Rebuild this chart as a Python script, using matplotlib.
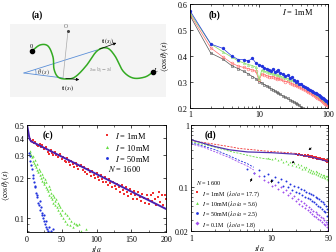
import numpy as np
import matplotlib.pyplot as plt
from matplotlib.lines import Line2D
from matplotlib.patches import Rectangle

plt.rcParams.update({
    "font.family": "Liberation Serif",
    "mathtext.fontset": "stix",
    "font.size": 6,
    "xtick.labelsize": 5.8, "ytick.labelsize": 5.8,
    "axes.linewidth": 0.6,
    "xtick.direction": "in", "ytick.direction": "in",
    "xtick.top": True, "ytick.right": True,
    "xtick.major.size": 2.5, "ytick.major.size": 2.5,
    "xtick.minor.size": 1.4, "ytick.minor.size": 1.4,
    "xtick.major.width": 0.5, "ytick.major.width": 0.5,
    "xtick.minor.width": 0.4, "ytick.minor.width": 0.4,
    "xtick.major.pad": 2, "ytick.major.pad": 1.5,
})

# ---- panel (b): log-x, linear y ----
b_x = [1, 2, 3, 4, 5, 6, 7, 8, 9, 10, 11, 12, 13, 14, 15, 16, 17, 18, 19, 20,
       22, 24, 26, 28, 30, 32, 34, 36, 38, 40,
       43, 46, 49, 52, 55, 58, 61, 64, 67, 70, 73, 76, 79, 82, 85, 88, 91, 94, 97, 100]
b_blue = [0.573, 0.445, 0.428, 0.400, 0.385, 0.385, 0.380, 0.390, 0.372, 0.366,
          0.360, 0.352, 0.350, 0.345, 0.343, 0.350, 0.336, 0.340, 0.345, 0.335,
          0.330, 0.322, 0.326, 0.315, 0.318, 0.305, 0.300, 0.302, 0.292, 0.290,
          0.285, 0.280, 0.276, 0.272, 0.268, 0.265, 0.262, 0.258, 0.255, 0.252,
          0.248, 0.245, 0.242, 0.238, 0.236, 0.232, 0.230, 0.226, 0.224, 0.220]
b_green = [0.565, 0.445, 0.415, 0.395, 0.380, 0.372, 0.366, 0.362, 0.356, 0.310,
           0.345, 0.340, 0.338, 0.335, 0.332, 0.330, 0.328, 0.326, 0.325, 0.322,
           0.318, 0.314, 0.312, 0.308, 0.305, 0.302, 0.298, 0.295, 0.292, 0.290,
           0.285, 0.280, 0.276, 0.272, 0.268, 0.264, 0.260, 0.257, 0.254, 0.250,
           0.246, 0.243, 0.240, 0.236, 0.233, 0.230, 0.227, 0.224, 0.221, 0.218]
b_red = [0.560, 0.430, 0.395, 0.372, 0.360, 0.355, 0.350, 0.345, 0.340, 0.305,
         0.330, 0.326, 0.323, 0.320, 0.318, 0.320, 0.315, 0.312, 0.314, 0.310,
         0.305, 0.300, 0.302, 0.295, 0.292, 0.288, 0.286, 0.282, 0.280, 0.276,
         0.272, 0.268, 0.264, 0.260, 0.256, 0.252, 0.248, 0.245, 0.242, 0.238,
         0.235, 0.232, 0.228, 0.225, 0.222, 0.220, 0.216, 0.213, 0.210, 0.207]
b_black = [0.554, 0.410, 0.387, 0.362, 0.350, 0.340, 0.330, 0.320, 0.312, 0.300,
           0.296, 0.288, 0.284, 0.278, 0.272, 0.270, 0.264, 0.260, 0.256, 0.252,
           0.246, 0.240, 0.236, 0.230, 0.226, 0.222, 0.218, 0.214, 0.210, 0.204,
           0.198, 0.193, 0.188]

# ---- panel (c): linear x, log y ----
c_red_x = list(range(4, 201, 2))
c_red = [0.395, 0.378, 0.385, 0.368, 0.372, 0.356, 0.348, 0.362, 0.340, 0.352,
         0.328, 0.335, 0.342, 0.315, 0.305, 0.322, 0.308, 0.296, 0.312, 0.300,
         0.285, 0.295, 0.302, 0.276, 0.285, 0.270, 0.264, 0.282, 0.262, 0.250,
         0.270, 0.255, 0.242, 0.258, 0.248, 0.232, 0.245, 0.252, 0.228, 0.240,
         0.222, 0.215, 0.235, 0.220, 0.208, 0.226, 0.212, 0.200, 0.218, 0.205,
         0.192, 0.210, 0.198, 0.185, 0.202, 0.188, 0.178, 0.195, 0.182, 0.170,
         0.188, 0.175, 0.166, 0.180, 0.170, 0.158, 0.176, 0.162, 0.152, 0.170,
         0.158, 0.146, 0.165, 0.152, 0.140, 0.160, 0.148, 0.138, 0.156, 0.145,
         0.134, 0.152, 0.142, 0.130, 0.150, 0.140, 0.128, 0.148, 0.135, 0.155,
         0.138, 0.126, 0.145, 0.158, 0.132, 0.148, 0.125, 0.150, 0.138]
c_green_x = [4, 5, 6, 7, 8, 9, 10, 11, 12, 13, 14, 15, 16, 17, 18, 19, 20, 21, 22, 23,
             24, 25, 26, 27, 28, 29, 30, 31, 32, 33, 34, 35, 36, 37, 38, 39, 40, 41, 42, 43,
             44, 45, 46, 47, 48, 49, 50, 52, 54, 55, 57, 58, 60, 62, 64, 66, 68, 70, 72, 75,
             78, 85]
c_green = [0.32, 0.31, 0.30, 0.285, 0.29, 0.27, 0.26, 0.275, 0.25, 0.24, 0.255, 0.23, 0.22,
           0.235, 0.21, 0.225, 0.20, 0.215, 0.19, 0.205, 0.185, 0.18, 0.195, 0.17, 0.185,
           0.165, 0.16, 0.175, 0.15, 0.165, 0.145, 0.155, 0.14, 0.15, 0.13, 0.145, 0.135,
           0.125, 0.14, 0.12, 0.13, 0.115, 0.125, 0.11, 0.12, 0.105, 0.115, 0.10, 0.11,
           0.095, 0.105, 0.09, 0.10, 0.088, 0.095, 0.085, 0.092, 0.09, 0.088, 0.09, 0.08, 0.082]
c_blue_x = [3, 4, 5, 6, 7, 8, 9, 10, 11, 12, 13, 14, 15, 16, 17, 18, 19, 20, 21, 22,
            23, 24, 25, 26, 27, 28, 29, 30, 32, 35, 38]
c_blue = [0.31, 0.29, 0.27, 0.25, 0.235, 0.21, 0.20, 0.185, 0.17, 0.175, 0.155, 0.145,
          0.15, 0.13, 0.125, 0.135, 0.115, 0.12, 0.105, 0.11, 0.10, 0.095, 0.105, 0.09,
          0.085, 0.095, 0.082, 0.08, 0.085, 0.08, 0.082]
c_fit_x = [0, 1, 2, 3, 4, 6, 10, 200]
c_fit = [0.5, 0.47, 0.44, 0.41, 0.39, 0.376, 0.368, 0.117]

# ---- panel (d): log-log ----
d_fit_x = [1, 2, 3, 5, 10, 20, 30, 50]
d_fit = [0.58, 0.45, 0.40, 0.37, 0.36, 0.34, 0.31, 0.26]
d_red_lx = [1, 1.5, 2, 3, 4, 6, 8, 12, 16, 20]
d_red_l = [0.56, 0.52, 0.49, 0.45, 0.42, 0.40, 0.385, 0.37, 0.36, 0.35]
d_green_lx = [1, 1.5, 2, 3, 4, 6, 8, 10]
d_green_l = [0.54, 0.48, 0.44, 0.38, 0.35, 0.31, 0.29, 0.28]
d_blue_lx = [1, 1.5, 2, 3, 4, 5, 6]
d_blue_l = [0.52, 0.45, 0.40, 0.32, 0.27, 0.24, 0.21]
d_purple_lx = [1, 1.5, 2, 3, 4, 5, 6]
d_purple_l = [0.50, 0.43, 0.37, 0.30, 0.25, 0.22, 0.19]
d_red_x = list(range(20, 51))
d_red = [0.345, 0.332, 0.340, 0.328, 0.335, 0.322, 0.330, 0.318, 0.326, 0.312, 0.320,
         0.305, 0.315, 0.300, 0.308, 0.296, 0.302, 0.290, 0.298, 0.284, 0.292, 0.280,
         0.286, 0.275, 0.282, 0.270, 0.276, 0.264, 0.272, 0.260, 0.266]
d_green_x = list(range(9, 51))
d_green = [0.30, 0.285, 0.295, 0.27, 0.28, 0.255, 0.265, 0.24, 0.255, 0.23, 0.245, 0.22,
           0.235, 0.21, 0.225, 0.20, 0.215, 0.195, 0.21, 0.185, 0.20, 0.178, 0.19, 0.172,
           0.185, 0.168, 0.18, 0.162, 0.175, 0.158, 0.17, 0.152, 0.165, 0.148, 0.16, 0.145,
           0.158, 0.14, 0.155, 0.135, 0.15, 0.13]
d_blue_x = list(range(5, 51))
d_blue = [0.20, 0.17, 0.19, 0.15, 0.165, 0.13, 0.145, 0.12, 0.135, 0.105, 0.125, 0.10,
          0.115, 0.09, 0.105, 0.085, 0.10, 0.08, 0.095, 0.075, 0.09, 0.07, 0.085, 0.068,
          0.08, 0.065, 0.078, 0.06, 0.075, 0.058, 0.07, 0.055, 0.068, 0.05, 0.065, 0.048,
          0.06, 0.045, 0.058, 0.042, 0.055, 0.04, 0.05, 0.035, 0.045, 0.028]
d_purple_x = list(range(6, 51))
d_purple = [0.17, 0.15, 0.13, 0.12, 0.105, 0.11, 0.095, 0.10, 0.085, 0.09, 0.075, 0.08,
            0.068, 0.072, 0.06, 0.066, 0.055, 0.06, 0.05, 0.056, 0.046, 0.052, 0.043,
            0.048, 0.04, 0.045, 0.037, 0.042, 0.035, 0.04, 0.033, 0.038, 0.031, 0.036,
            0.03, 0.034, 0.028, 0.032, 0.026, 0.03, 0.025, 0.028, 0.023, 0.026, 0.021]
d_labels = [r"$I$ = 1mM  ($\lambda_D/a$ = 17.7)", r"$I$ = 10mM ($\lambda_D/a$ = 5.6)",
            r"$I$ = 50mM ($\lambda_D/a$ = 2.5)", r"$I$ = 0.1M  ($\lambda_D/a$ = 1.8)"]

# ---- panel (a) sketch (pixel coords) ----
chain = [(32, 52), (40, 46), (48, 47), (53, 58), (54, 70), (58, 78), (66, 80), (75, 78),
         (86, 67), (97, 52), (107, 49), (115, 57), (123, 72), (133, 79), (145, 78), (153, 73)]

RED, GREEN, BLUE, PURPLE = "#f03030", "#66dd44", "#2233dd", "#a050ee"
YLAB = r"$\langle\cos\theta\rangle\,(s)$"


def smooth(pts, n=12):
    p = np.array(pts, float)
    p = np.vstack([p[0], p, p[-1]])
    out = []
    t = np.linspace(0, 1, n, endpoint=False)[:, None]
    for i in range(1, len(p) - 2):
        p0, p1, p2, p3 = p[i - 1], p[i], p[i + 1], p[i + 2]
        out.append(0.5 * (2 * p1 + (-p0 + p2) * t + (2 * p0 - 5 * p1 + 4 * p2 - p3) * t ** 2
                          + (-p0 + 3 * p1 - 3 * p2 + p3) * t ** 3))
    out.append(p[-2][None])
    return np.vstack(out)


fig = plt.figure(figsize=(3.36, 2.53), dpi=100)

# (a) sketch
ax = fig.add_axes([0, 0, 1, 1], zorder=0)
ax.set_xlim(0, 336)
ax.set_ylim(253, 0)
ax.axis("off")
ax.add_patch(Rectangle((10, 25), 156, 73, color="#f4f4f4", lw=0))
vx, vy = 24, 74
ax.plot([vx, 97], [vy, 51], color="#5b8fd8", lw=0.6)
ax.plot([vx, 63], [vy, 79], color="#5b8fd8", lw=0.6)
a1, a2 = np.arctan2(51 - vy, 97 - vx), np.arctan2(79 - vy, 63 - vx)
ang = np.linspace(a1, a2, 20)
ax.plot(vx + 12 * np.cos(ang), vy + 12 * np.sin(ang), color="#5b8fd8", lw=0.5)
ax.plot([63, 68], [79, 32], color="#aaaaaa", lw=0.5)
ax.plot(68, 32, "o", color="#444444", ms=1.2)
cx = smooth(chain)
ax.plot(cx[:, 0], cx[:, 1], color="#33aa22", lw=1.1)
ax.plot([32, 153], [52, 73], "o", color="black", ms=3, ls="none")
ax.annotate("", xy=(119, 43), xytext=(97, 51),
            arrowprops=dict(arrowstyle="-|>", lw=0.5, color="black", mutation_scale=4))
ax.annotate("", xy=(82, 81), xytext=(63, 79),
            arrowprops=dict(arrowstyle="-|>", lw=0.5, color="black", mutation_scale=4))
ax.text(31, 46, "0", fontsize=4.5, ha="center", va="center")
ax.text(156, 70, r"$L$", fontsize=4.5, ha="center", va="center")
ax.text(66, 29, "O", fontsize=4, ha="center", va="bottom", color="#555555")
ax.text(43, 72, r"$\theta\ (s)$", fontsize=4.5, ha="center", va="center", color="#333333")
ax.text(108, 42, r"$\mathbf{t}\ (s_j)$", fontsize=4.5, ha="center", va="center")
ax.text(68, 88, r"$\mathbf{t}\ (s_i)$", fontsize=4.5, ha="center", va="center")
ax.text(101, 71, r"$s=|s_j-s_i|$", fontsize=4, ha="center", va="center", color="#888888")
ax.text(37, 15, "(a)", fontsize=7, fontweight="bold", ha="center", va="center")

# (b)
axb = fig.add_axes([190 / 336, 1 - 108.7 / 253, 138 / 336, 104 / 253])
axb.plot(b_x[:len(b_black)], b_black, "-s", color="#555555", mfc="none", ms=2, mew=0.4, lw=0.5)
axb.plot(b_x, b_red, "-o", color="#ff6a6a", mfc="none", ms=2, mew=0.4, lw=0.5)
axb.plot(b_x, b_green, "-^", color="#8fe070", mfc="none", ms=1.6, mew=0.4, lw=0.6)
axb.plot(b_x, b_blue, "-o", color=BLUE, ms=2.4, mew=0, lw=0.5)
axb.set_xscale("log")
axb.set_xlim(1, 100)
axb.set_ylim(0.2, 0.6)
axb.set_yticks([0.2, 0.3, 0.4, 0.5, 0.6])
axb.set_xticks([1, 10, 100])
axb.set_xticklabels(["1", "10", "100"])
axb.set_ylabel(YLAB, fontsize=5.5)
axb.yaxis.set_label_coords(-0.14, 0.5)
axb.text(0.18, 0.9, "(b)", transform=axb.transAxes, fontsize=7, fontweight="bold",
         ha="center", va="center")
axb.text(0.67, 0.93, r"$I$ = 1mM", transform=axb.transAxes, fontsize=6, va="center")

# (c)
axc = fig.add_axes([27 / 336, 1 - 233 / 253, 139 / 336, 107 / 253])
axc.plot(c_red_x, c_red, "s", color=RED, ms=1.6, mew=0, ls="none", label=r"$I$ = 1mM")
axc.plot(c_green_x, c_green, "^", color=GREEN, ms=1.7, mew=0, ls="none", label=r"$I$ = 10mM")
axc.plot(c_blue_x, c_blue, "o", color=BLUE, ms=1.6, mew=0, ls="none", label=r"$I$ = 50mM")
axc.plot(c_fit_x, c_fit, color="#4a20b0", lw=1.4)
axc.set_yscale("log")
axc.set_xlim(0, 200)
axc.set_ylim(0.0785, 0.5)
axc.set_xticks([0, 50, 100, 150, 200])
axc.set_xticks(range(0, 201, 25), minor=True)
axc.set_yticks([0.1, 0.2, 0.3, 0.4, 0.5])
axc.set_yticklabels(["0.1", "0.2", "0.3", "0.4", "0.5"])
axc.yaxis.set_minor_formatter(plt.NullFormatter())
axc.set_ylabel(YLAB, fontsize=5.5)
axc.yaxis.set_label_coords(-0.11, 0.45)
axc.set_xlabel(r"$s/a$", fontsize=5.5)
axc.xaxis.set_label_coords(0.5, -0.1)
axc.text(0.15, 0.916, "(c)", transform=axc.transAxes, fontsize=7, fontweight="bold",
         ha="center", va="center")
axc.legend(loc="upper left", bbox_to_anchor=(0.51, 1.0), frameon=False, fontsize=6,
           handlelength=1.0, handletextpad=0.4, labelspacing=0.2, markerscale=1.3,
           borderaxespad=0.2)
axc.text(0.585, 0.60, r"$N$ = 1600", transform=axc.transAxes, fontsize=6, va="center")

# (d)
axd = fig.add_axes([191 / 336, 1 - 232 / 253, 137 / 336, 106 / 253])
for lx, ly, col in [(d_red_lx, d_red_l, RED), (d_green_lx, d_green_l, GREEN),
                    (d_blue_lx, d_blue_l, BLUE), (d_purple_lx, d_purple_l, PURPLE)]:
    axd.plot(lx, ly, color=col, lw=0.6, ls=(0, (2.5, 1.5)))
axd.plot(d_green_x, d_green, "^", color=GREEN, ms=1.4, mew=0, ls="none")
axd.plot(d_blue_x, d_blue, "o", color=BLUE, ms=1.4, mew=0, ls="none")
axd.plot(d_purple_x, d_purple, "D", color=PURPLE, ms=1.2, mew=0, ls="none")
axd.plot(d_red_x, d_red, "s", color=RED, ms=1.5, mew=0, ls="none")
axd.plot(d_fit_x, d_fit, color="#5030b0", lw=0.9)
axd.set_xscale("log")
axd.set_yscale("log")
axd.set_xlim(1, 50)
axd.set_ylim(0.02, 1)
axd.set_xticks([1, 10, 50])
axd.set_xticklabels(["1", "10", "50"])
axd.xaxis.set_minor_formatter(plt.NullFormatter())
axd.set_yticks([0.02, 0.1, 1])
axd.set_yticklabels(["0.02", "0.1", "1"])
axd.yaxis.set_minor_formatter(plt.NullFormatter())
axd.set_xlabel(r"$s/a$", fontsize=5.5)
axd.xaxis.set_label_coords(0.5, -0.1)
axd.text(0.14, 0.915, "(d)", transform=axd.transAxes, fontsize=7, fontweight="bold",
         ha="center", va="center")
arrow = dict(arrowstyle="-|>", lw=0.5, color="black", mutation_scale=3)
axd.annotate("", xy=(27, 0.37), xytext=(33, 0.46), arrowprops=arrow)
axd.annotate("", xy=(16.6, 0.229), xytext=(19.6, 0.268), arrowprops=arrow)
axd.annotate("", xy=(5.94, 0.154), xytext=(5.25, 0.113), arrowprops=arrow)
axd.annotate("", xy=(10, 0.15), xytext=(10, 0.107), arrowprops=arrow)
handles = [Line2D([], [], marker=m, color=c, ls="none", ms=2, mew=0)
           for m, c in [("s", RED), ("^", GREEN), ("o", BLUE), ("D", PURPLE)]]
axd.legend(handles, d_labels, loc="lower left", bbox_to_anchor=(0.0, -0.012), frameon=False,
           fontsize=4.3, handlelength=0.8, handletextpad=0.5, labelspacing=0.1,
           borderaxespad=0.2)
axd.text(0.04, 0.46, r"$N$ = 1600", transform=axd.transAxes, fontsize=4.5, va="center")

fig.savefig("out.png", dpi=100)
